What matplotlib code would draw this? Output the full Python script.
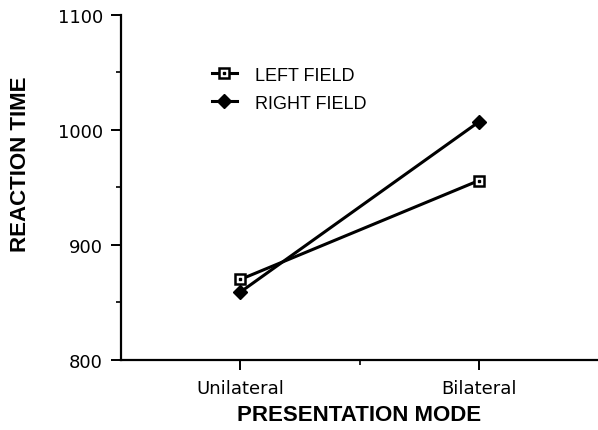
import matplotlib
matplotlib.use("Agg")
import matplotlib.pyplot as plt
from matplotlib.ticker import FixedLocator

categories = ["Unilateral", "Bilateral"]
left_field = [870, 956]
right_field = [859, 1007]
y_ticks = [800, 900, 1000, 1100]
y_minor = [850, 950, 1050]

plt.rcParams['font.family'] = ['Liberation Sans', 'DejaVu Sans']

fig = plt.figure(figsize=(5.98, 4.31), dpi=100)
ax = fig.add_axes([121/598, 1 - 361/431, 477/598, 345/431])

x = [1, 2]
l1, = ax.plot(x, left_field, color='black', lw=2.2, marker='s', ms=7,
              mfc='white', mec='black', mew=1.8, zorder=3)
d1, = ax.plot(x, left_field, ls='none', marker='s', ms=1.6, color='black', zorder=4)
l2, = ax.plot(x, right_field, color='black', lw=2.2, marker='D', ms=7.2,
              mfc='black', mec='black', zorder=3)

ax.set_xlim(0.5, 2.5)
ax.set_ylim(800, 1100)
ax.set_xticks(x)
ax.set_xticklabels(categories)
ax.xaxis.set_minor_locator(FixedLocator([1.5]))
ax.set_yticks(y_ticks)
ax.yaxis.set_minor_locator(FixedLocator(y_minor))

for s in ['top', 'right']:
    ax.spines[s].set_visible(False)
for s in ['left', 'bottom']:
    ax.spines[s].set_linewidth(1.6)

ax.tick_params(axis='both', which='major', length=7, width=1.4, direction='out')
ax.tick_params(axis='y', which='major', pad=6)
ax.tick_params(axis='x', which='major', pad=7)
ax.tick_params(axis='both', which='minor', length=3.5, width=1.2, direction='out')
for lab in ax.get_xticklabels() + ax.get_yticklabels():
    lab.set_fontfamily(['DejaVu Sans'])
    lab.set_fontsize(13)

ax.set_xlabel('PRESENTATION MODE', fontsize=16, fontweight='bold', labelpad=5)
ax.set_ylabel('REACTION TIME', fontsize=16, fontweight='bold')
ax.yaxis.set_label_coords(-0.188, 0.571)

leg = ax.legend([(l1, d1), l2], ['LEFT FIELD', 'RIGHT FIELD'], frameon=False,
                loc='upper left', bbox_to_anchor=(0.19, 0.85), borderpad=0,
                borderaxespad=0, handlelength=1.4, handletextpad=1.0,
                labelspacing=0.6, fontsize=13)

fig.savefig('out.png', dpi=100)
